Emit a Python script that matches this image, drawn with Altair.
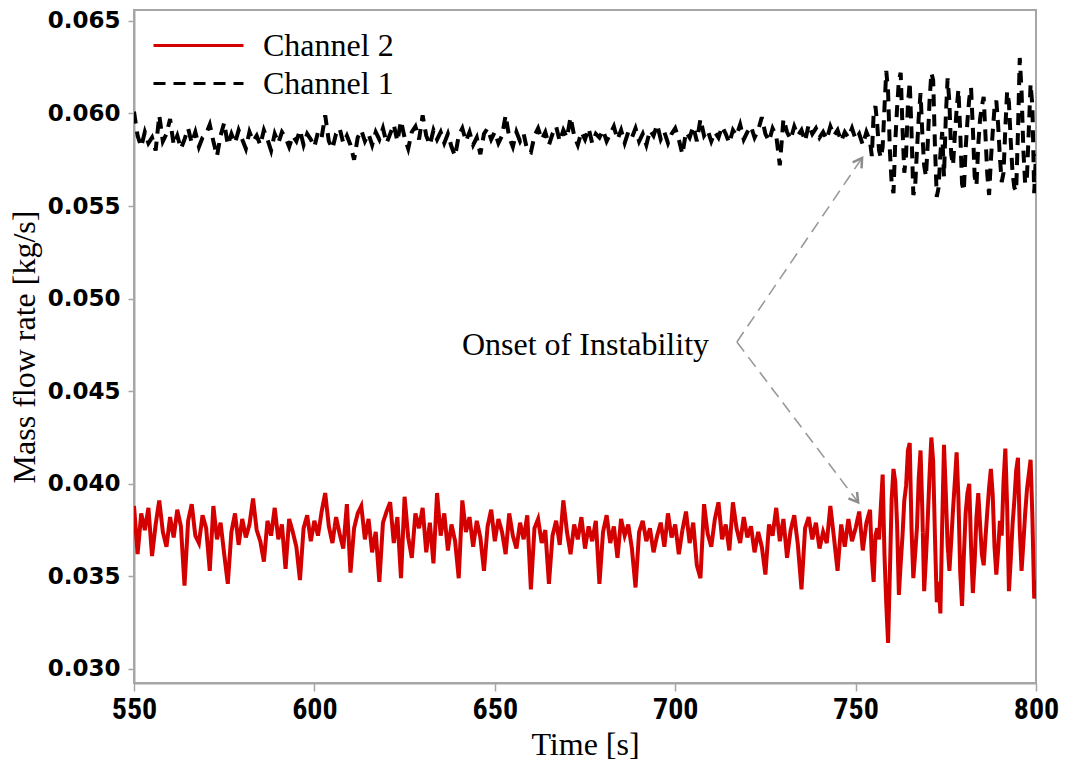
import altair as alt
import pandas as pd

# ---------------- data ----------------
# sampling grid: 1 s steps 550..754, then 0.5 s steps 754.5..800
TIME = list(range(550, 755)) + [754.5 + 0.5 * i for i in range(92)]

# Channel 2 (red, solid) mass flow rate [kg/s]
CH2 = [
    0.0388, 0.0362, 0.0384, 0.0375, 0.0387, 0.0361, 0.0378, 0.0391, 0.0374, 0.0366,  # 550
    0.0382, 0.0371, 0.0386, 0.0377, 0.0345, 0.0380, 0.0389, 0.0372, 0.0368, 0.0383,  # 560
    0.0376, 0.0353, 0.0388, 0.0370, 0.0379, 0.0362, 0.0346, 0.0374, 0.0384, 0.0367,  # 570
    0.0381, 0.0371, 0.0378, 0.0392, 0.0375, 0.0369, 0.0358, 0.0380, 0.0372, 0.0387,  # 580
    0.0370, 0.0378, 0.0354, 0.0381, 0.0374, 0.0366, 0.0348, 0.0376, 0.0383, 0.0369,  # 590
    0.0380, 0.0372, 0.0385, 0.0395, 0.0377, 0.0368, 0.0382, 0.0373, 0.0365, 0.0389,  # 600
    0.0352, 0.0376, 0.0384, 0.0388, 0.0370, 0.0381, 0.0363, 0.0374, 0.0347, 0.0379,  # 610
    0.0385, 0.0390, 0.0368, 0.0382, 0.0349, 0.0393, 0.0371, 0.0360, 0.0384, 0.0376,  # 620
    0.0387, 0.0363, 0.0379, 0.0357, 0.0395, 0.0372, 0.0384, 0.0364, 0.0378, 0.0369,  # 630
    0.0349, 0.0391, 0.0374, 0.0382, 0.0366, 0.0380, 0.0371, 0.0353, 0.0377, 0.0386,  # 640
    0.0369, 0.0381, 0.0374, 0.0362, 0.0384, 0.0372, 0.0365, 0.0379, 0.0370, 0.0383,  # 650
    0.0343, 0.0376, 0.0381, 0.0368, 0.0375, 0.0346, 0.0372, 0.0380, 0.0367, 0.0391,  # 660
    0.0374, 0.0362, 0.0378, 0.0370, 0.0382, 0.0365, 0.0377, 0.0369, 0.0380, 0.0346,  # 670
    0.0374, 0.0383, 0.0368, 0.0377, 0.0360, 0.0381, 0.0372, 0.0378, 0.0365, 0.0344,  # 680
    0.0374, 0.0380, 0.0369, 0.0376, 0.0363, 0.0372, 0.0379, 0.0366, 0.0384, 0.0371,  # 690
    0.0378, 0.0362, 0.0375, 0.0385, 0.0368, 0.0379, 0.0356, 0.0349, 0.0389, 0.0373,  # 700
    0.0366, 0.0381, 0.0390, 0.0370, 0.0378, 0.0364, 0.0390, 0.0376, 0.0368, 0.0382,  # 710
    0.0371, 0.0377, 0.0363, 0.0374, 0.0366, 0.0351, 0.0378, 0.0372, 0.0387, 0.0369,  # 720
    0.0381, 0.0360, 0.0375, 0.0383, 0.0367, 0.0343, 0.0376, 0.0382, 0.0370, 0.0379,  # 730
    0.0365, 0.0374, 0.0368, 0.0388, 0.0371, 0.0353, 0.0378, 0.0366, 0.0381, 0.0369,  # 740
    0.0376, 0.0385, 0.0364, 0.0379, 0.0386,                                          # 750
    0.0360, 0.0347, 0.0372, 0.0376, 0.0370, 0.0388, 0.0405, 0.0362, 0.0335, 0.0314,  # 754.5
    0.0352, 0.0392, 0.0408, 0.0401, 0.0378, 0.0340, 0.0357, 0.0372, 0.0391, 0.0399,  # 759.5
    0.0418, 0.0422, 0.0376, 0.0349, 0.0362, 0.0376, 0.0403, 0.0418, 0.0385, 0.0342,  # 764.5
    0.0360, 0.0381, 0.0405, 0.0425, 0.0412, 0.0371, 0.0336, 0.0347, 0.0330, 0.0378,  # 769.5
    0.0421, 0.0395, 0.0367, 0.0353, 0.0369, 0.0386, 0.0401, 0.0417, 0.0392, 0.0352,  # 774.5
    0.0334, 0.0361, 0.0384, 0.0395, 0.0400, 0.0366, 0.0341, 0.0358, 0.0382, 0.0395,  # 779.5
    0.0378, 0.0362, 0.0356, 0.0371, 0.0385, 0.0398, 0.0408, 0.0394, 0.0366, 0.0351,  # 784.5
    0.0364, 0.0380, 0.0372, 0.0401, 0.0419, 0.0388, 0.0342, 0.0359, 0.0378, 0.0391,  # 789.5
    0.0407, 0.0414, 0.0375, 0.0353, 0.0368, 0.0384, 0.0397, 0.0405, 0.0413, 0.0382,  # 794.5
    0.0338, 0.0348,                                                                  # 799.5
]

# Channel 1 (black, dashed) mass flow rate [kg/s]
CH1 = [
    0.0601, 0.0588, 0.0582, 0.0590, 0.0584, 0.0587, 0.0580, 0.0599, 0.0585, 0.0589,  # 550
    0.0597, 0.0583, 0.0588, 0.0581, 0.0586, 0.0592, 0.0584, 0.0590, 0.0582, 0.0587,  # 560
    0.0589, 0.0594, 0.0585, 0.0577, 0.0588, 0.0595, 0.0583, 0.0589, 0.0584, 0.0591,  # 570
    0.0586, 0.0581, 0.0590, 0.0585, 0.0588, 0.0583, 0.0591, 0.0586, 0.0580, 0.0589,  # 580
    0.0584, 0.0590, 0.0587, 0.0582, 0.0588, 0.0585, 0.0591, 0.0583, 0.0589, 0.0586,  # 590
    0.0582, 0.0590, 0.0587, 0.0599, 0.0585, 0.0581, 0.0589, 0.0592, 0.0584, 0.0588,  # 600
    0.0583, 0.0575, 0.0587, 0.0591, 0.0585, 0.0589, 0.0583, 0.0590, 0.0586, 0.0592,  # 610
    0.0584, 0.0589, 0.0594, 0.0585, 0.0596, 0.0587, 0.0581, 0.0590, 0.0593, 0.0586,  # 620
    0.0599, 0.0588, 0.0583, 0.0591, 0.0586, 0.0590, 0.0584, 0.0589, 0.0582, 0.0577,  # 630
    0.0588, 0.0592, 0.0585, 0.0590, 0.0583, 0.0587, 0.0578, 0.0589, 0.0592, 0.0586,  # 640
    0.0590, 0.0584, 0.0588, 0.0599, 0.0587, 0.0582, 0.0590, 0.0585, 0.0589, 0.0580,  # 650
    0.0579, 0.0588, 0.0592, 0.0586, 0.0590, 0.0583, 0.0589, 0.0593, 0.0585, 0.0591,  # 660
    0.0587, 0.0598, 0.0588, 0.0583, 0.0590, 0.0586, 0.0592, 0.0584, 0.0589, 0.0587,  # 670
    0.0591, 0.0585, 0.0589, 0.0593, 0.0586, 0.0591, 0.0584, 0.0590, 0.0587, 0.0592,  # 680
    0.0585, 0.0589, 0.0583, 0.0591, 0.0588, 0.0594, 0.0586, 0.0590, 0.0584, 0.0589,  # 690
    0.0592, 0.0586, 0.0578, 0.0590, 0.0587, 0.0593, 0.0585, 0.0597, 0.0588, 0.0591,  # 700
    0.0585, 0.0590, 0.0587, 0.0593, 0.0589, 0.0584, 0.0591, 0.0588, 0.0594, 0.0586,  # 710
    0.0590, 0.0593, 0.0587, 0.0591, 0.0598, 0.0589, 0.0585, 0.0592, 0.0588, 0.0572,  # 720
    0.0597, 0.0590, 0.0586, 0.0593, 0.0588, 0.0591, 0.0585, 0.0594, 0.0589, 0.0592,  # 730
    0.0587, 0.0590, 0.0586, 0.0593, 0.0588, 0.0591, 0.0585, 0.0590, 0.0587, 0.0592,  # 740
    0.0586, 0.0589, 0.0583, 0.0590, 0.0585,                                          # 750
    0.0577, 0.0600, 0.0604, 0.0594, 0.0580, 0.0576, 0.0582, 0.0603, 0.0623, 0.0612,  # 754.5
    0.0580, 0.0562, 0.0557, 0.0585, 0.0603, 0.0618, 0.0622, 0.0592, 0.0568, 0.0578,  # 759.5
    0.0605, 0.0617, 0.0590, 0.0556, 0.0560, 0.0580, 0.0598, 0.0611, 0.0589, 0.0572,  # 764.5
    0.0566, 0.0584, 0.0607, 0.0622, 0.0618, 0.0582, 0.0555, 0.0560, 0.0578, 0.0590,  # 769.5
    0.0566, 0.0598, 0.0619, 0.0606, 0.0578, 0.0572, 0.0588, 0.0602, 0.0613, 0.0590,  # 774.5
    0.0562, 0.0558, 0.0581, 0.0596, 0.0608, 0.0614, 0.0592, 0.0566, 0.0561, 0.0583,  # 779.5
    0.0597, 0.0604, 0.0609, 0.0588, 0.0567, 0.0556, 0.0575, 0.0590, 0.0603, 0.0607,  # 784.5
    0.0594, 0.0576, 0.0563, 0.0568, 0.0592, 0.0612, 0.0606, 0.0585, 0.0568, 0.0560,  # 789.5
    0.0558, 0.0590, 0.0630, 0.0612, 0.0580, 0.0562, 0.0566, 0.0591, 0.0616, 0.0604,  # 794.5
    0.0557, 0.0578,                                                                  # 799.5
]

SERIES = ["Channel 2", "Channel 1"]
COLORS = ["#d40000", "#000000"]
DASHES = [[1, 0], [12, 8]]

X_TICKS = [550, 600, 650, 700, 750, 800]
Y_TICKS = [0.030, 0.035, 0.040, 0.045, 0.050, 0.055, 0.060, 0.065]
X_DOMAIN = [550, 800]
Y_DOMAIN = [0.02924, 0.06559]

# annotation (data units)
NOTE_TEXT = "Onset of Instability"
NOTE_T, NOTE_V = 640.9, 0.0475
KNEE_T, KNEE_V = 717.1, 0.04766
TIP_T = [751.8, 750.7]
TIP_V = [0.0576, 0.0390]
TIP_ANGLE = [34, 143]

# ---------------- build tables ----------------
rows = []
for name, vals in zip(SERIES, [CH2, CH1]):
    for t, v in zip(TIME, vals):
        rows.append({"t": t, "v": v, "series": name})
df = pd.DataFrame(rows)

arrow_rows = []
for i, (tt, vv) in enumerate(zip(TIP_T, TIP_V)):
    arrow_rows.append({"t": KNEE_T, "v": KNEE_V, "k": i, "o": 0})
    arrow_rows.append({"t": tt, "v": vv, "k": i, "o": 1})
df_arrow = pd.DataFrame(arrow_rows)
df_tips = pd.DataFrame({"t": TIP_T, "v": TIP_V, "ang": TIP_ANGLE})
df_note = pd.DataFrame({"t": [NOTE_T], "v": [NOTE_V], "txt": [NOTE_TEXT]})

GRAY = "#a6a6a6"
SERIF = "Liberation Serif"

x_enc = alt.X(
    "t:Q",
    scale=alt.Scale(domain=X_DOMAIN, nice=False, zero=False),
    axis=alt.Axis(
        values=X_TICKS, format="d", title="Time [s]", grid=False, labelFlush=False,
        labelFont="Roboto Condensed, Roboto, sans-serif",
        labelFontWeight="bold", labelFontSize=30, labelColor="black", labelPadding=3,
        tickSize=8, tickColor=GRAY, tickWidth=1.5, domainColor=GRAY, domainWidth=2,
        titleFont=SERIF, titleFontSize=32, titleFontWeight="normal", titleColor="black",
        titlePadding=5,
    ),
)
y_enc = alt.Y(
    "v:Q",
    scale=alt.Scale(domain=Y_DOMAIN, nice=False, zero=False),
    axis=alt.Axis(
        values=Y_TICKS, format=".3f", title="Mass flow rate [kg/s]", grid=False,
        labelFlush=False,
        labelFont="DejaVu Sans", labelFontWeight="bold", labelFontSize=23,
        labelColor="black", labelPadding=8,
        tickSize=6, tickColor=GRAY, tickWidth=1.5, domainColor=GRAY, domainWidth=2,
        titleFont=SERIF, titleFontSize=32, titleFontWeight="normal", titleColor="black",
        titlePadding=6,
    ),
)

LEGEND = alt.Legend(
    title=None, orient="none", legendX=43, legendY=14, padding=0,
    symbolType="M -2.25 0 L 2.25 0", symbolSize=1600, symbolStrokeWidth=3,
    labelFont=SERIF, labelFontSize=32, labelColor="black", labelOffset=43,
    rowPadding=0, labelLimit=400,
)

lines = alt.Chart(df).mark_line(strokeWidth=4, clip=True).encode(
    x=x_enc,
    y=y_enc,
    color=alt.Color("series:N", scale=alt.Scale(domain=SERIES, range=COLORS), legend=LEGEND),
    strokeDash=alt.StrokeDash("series:N", scale=alt.Scale(domain=SERIES, range=DASHES), legend=LEGEND),
    order=alt.Order("t:Q"),
)

arrows = alt.Chart(df_arrow).mark_line(
    color="#999999", strokeWidth=1.6, strokeDash=[12, 7]
).encode(x="t:Q", y="v:Q", detail="k:N", order="o:Q")

tips = alt.Chart(df_tips).mark_point(
    shape="M -0.6 1 L 0 0 L 0.6 1", filled=False, stroke="#8c8c8c",
    strokeWidth=2.5, size=320, opacity=1,
).encode(x="t:Q", y="v:Q", angle=alt.Angle("ang:Q", scale=None))

note = alt.Chart(df_note).mark_text(
    font=SERIF, fontSize=32, color="black", align="left", baseline="middle"
).encode(x="t:Q", y="v:Q", text="txt:N")

chart = alt.layer(lines, arrows, tips, note).properties(
    width=902, height=673,
    autosize=alt.AutoSizeParams(type="none"),
    padding={"left": 134, "top": 10, "right": 29, "bottom": 87},
    background="white",
).configure_view(stroke=GRAY, strokeWidth=2)

chart.save("out.html", embed_options={"renderer": "svg", "actions": False})
